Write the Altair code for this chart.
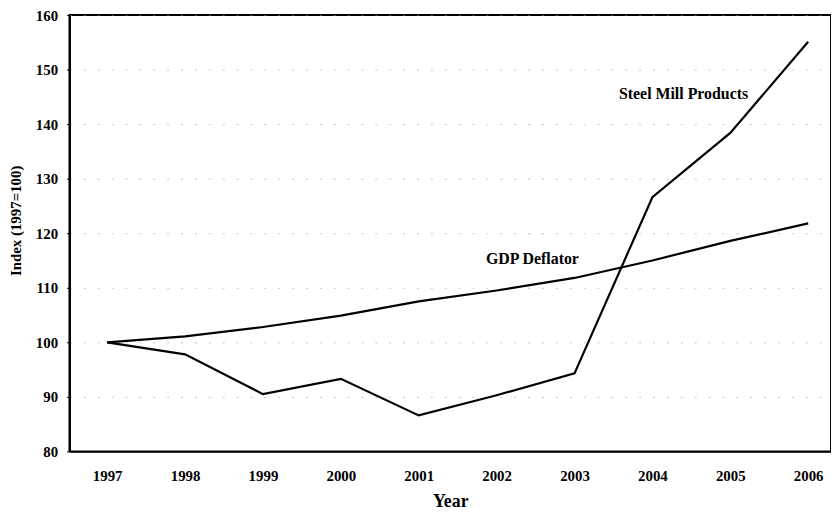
import altair as alt
import pandas as pd

years = [1997, 1998, 1999, 2000, 2001, 2002, 2003, 2004, 2005, 2006]
steel = [100.0, 97.8, 90.5, 93.3, 86.6, 90.3, 94.3, 126.6, 138.4, 155.1]
gdp = [100.0, 101.1, 102.8, 104.9, 107.5, 109.5, 111.8, 115.0, 118.6, 121.8]

label_text = ["Steel Mill Products", "GDP Deflator"]
label_year = [2004.4, 2002.46]
label_value = [145.5, 115.3]

rows = []
for y, s, g in zip(years, steel, gdp):
    rows.append({"Year": y, "Index": s, "Series": "Steel Mill Products"})
    rows.append({"Year": y, "Index": g, "Series": "GDP Deflator"})
df = pd.DataFrame(rows)
labels = pd.DataFrame({"text": label_text, "Year": label_year, "Index": label_value})

FONT = "Liberation Serif"

x = alt.X("Year:Q",
          scale=alt.Scale(domain=[1996.516, 2006.293], nice=False, zero=False),
          axis=alt.Axis(values=years, format="d", title="Year", grid=False,
                        tickSize=0, labelPadding=17, titlePadding=10,
                        labelFontSize=15, titleFontSize=18))
y = alt.Y("Index:Q",
          scale=alt.Scale(domain=[80, 160], nice=False, zero=False),
          axis=alt.Axis(values=list(range(80, 161, 10)), title="Index (1997=100)",
                        tickSize=3, labelPadding=9, titlePadding=12,
                        labelFontSize=15, titleFontSize=15, titleY=207,
                        grid=True, gridColor="#999999", gridDash=[2, 12],
                        gridOpacity=0.6))

lines = alt.Chart(df).mark_line(color="black", strokeWidth=2.2).encode(
    x=x, y=y, detail="Series:N"
)

text = alt.Chart(labels).mark_text(font=FONT, fontWeight="bold", fontSize=16,
                                   color="black", align="center").encode(
    x="Year:Q", y="Index:Q", text="text:N"
)

chart = (lines + text).properties(
    width=768, height=440,
    background="white",
    autosize=alt.AutoSizeParams(type="none"),
    padding={"left": 62, "top": 5, "right": 0, "bottom": 60},
).configure_view(
    stroke="black", strokeWidth=2
).configure_axis(
    labelFont=FONT, titleFont=FONT, labelFontWeight="bold", titleFontWeight="bold",
    labelColor="black", titleColor="black", domainColor="black", domainWidth=2,
    tickColor="black"
)

chart.save("out.html", embed_options={"renderer": "svg", "actions": False})
